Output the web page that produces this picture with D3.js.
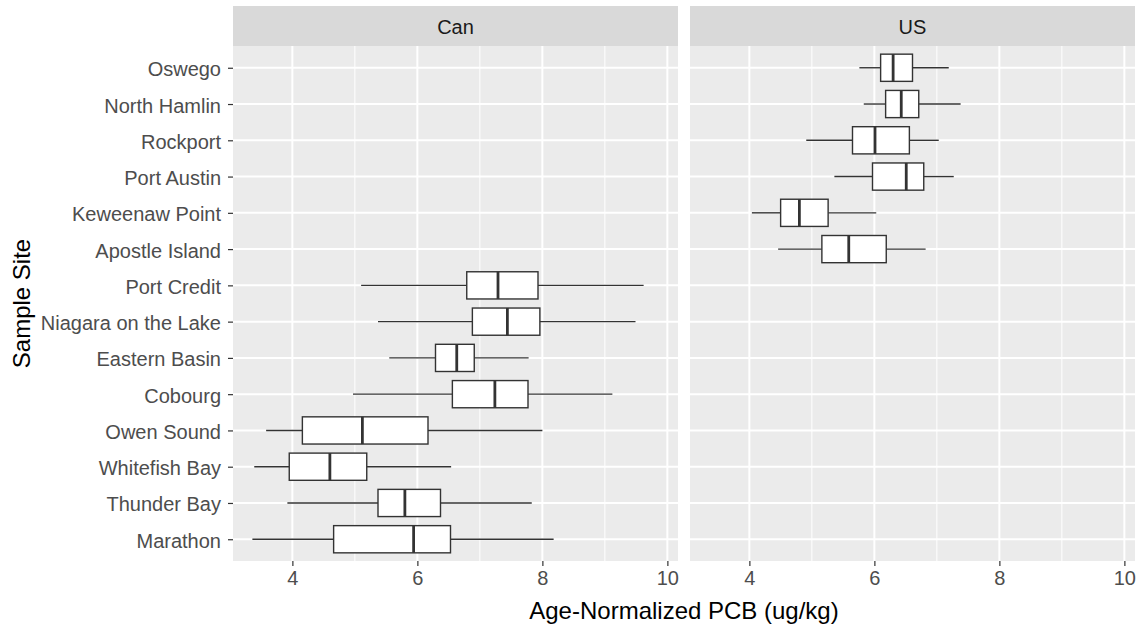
<!DOCTYPE html>
<html>
<head>
<meta charset="utf-8">
<script src="https://cdn.jsdelivr.net/npm/d3@7"></script>
<style>
  body { margin: 0; background: #fff; }
  svg { display: block; font-family: "Liberation Sans", Arial, sans-serif; }
</style>
</head>
<body>
<svg id="chart" width="1144" height="628"></svg>
<script>
// Sites from top to bottom
const sites = [
  'Oswego', 'North Hamlin', 'Rockport', 'Port Austin', 'Keweenaw Point',
  'Apostle Island', 'Port Credit', 'Niagara on the Lake', 'Eastern Basin',
  'Cobourg', 'Owen Sound', 'Whitefish Bay', 'Thunder Bay', 'Marathon'
];
const country = ['US', 'US', 'US', 'US', 'US', 'US',
  'Can', 'Can', 'Can', 'Can', 'Can', 'Can', 'Can', 'Can'];
const whiskerLow  = [5.76, 5.83, 4.91, 5.36, 4.04, 4.46, 5.10, 5.37, 5.55, 4.97, 3.58, 3.39, 3.92, 3.36];
const q1          = [6.10, 6.18, 5.65, 5.97, 4.50, 5.16, 6.79, 6.88, 6.29, 6.56, 4.16, 3.95, 5.37, 4.66];
const median      = [6.30, 6.43, 6.01, 6.51, 4.80, 5.59, 7.29, 7.44, 6.63, 7.24, 5.12, 4.60, 5.80, 5.94];
const q3          = [6.61, 6.71, 6.56, 6.79, 5.26, 6.19, 7.93, 7.96, 6.91, 7.77, 6.17, 5.19, 6.37, 6.53];
const whiskerHigh = [7.19, 7.38, 7.03, 7.27, 6.03, 6.82, 9.62, 9.49, 7.78, 9.12, 8.00, 6.54, 7.83, 8.18];

const panels = ['Can', 'US'];
const xTicks = [4, 6, 8, 10];
const xMinor = [3, 5, 7, 9];

const rows = sites.map((s, i) => ({
  site: s, country: country[i],
  lo: whiskerLow[i], q1: q1[i], med: median[i], q3: q3[i], hi: whiskerHigh[i]
}));

const FONT = '"Liberation Sans", Arial, sans-serif';
const svg = d3.select('#chart');
const panelTop = 46, panelBottom = 561;
const panelX = { Can: 233, US: 690 };
const panelW = 445;
const stripTop = 6;

const y = d3.scalePoint().domain(sites).range([panelTop, panelBottom]).padding(0.6);
const boxH = y.step() * 0.75;

panels.forEach(p => {
  const x0 = panelX[p];
  const x = d3.scaleLinear().domain([3.05, 10.17]).range([x0, x0 + panelW]);

  // strip
  svg.append('rect').attr('x', x0).attr('y', stripTop)
    .attr('width', panelW).attr('height', panelTop - stripTop).attr('fill', '#D9D9D9');
  svg.append('text').attr('x', x0 + panelW / 2).attr('y', 27)
    .attr('text-anchor', 'middle').attr('dominant-baseline', 'central')
    .attr('font-size', 20).attr('fill', '#1A1A1A').text(p);

  // panel background
  svg.append('rect').attr('x', x0).attr('y', panelTop)
    .attr('width', panelW).attr('height', panelBottom - panelTop).attr('fill', '#EBEBEB');

  const g = svg.append('g');
  g.selectAll('line.minor').data(xMinor).join('line')
    .attr('x1', d => x(d)).attr('x2', d => x(d))
    .attr('y1', panelTop).attr('y2', panelBottom)
    .attr('stroke', '#fff').attr('stroke-width', 1);
  g.selectAll('line.majx').data(xTicks).join('line')
    .attr('x1', d => x(d)).attr('x2', d => x(d))
    .attr('y1', panelTop).attr('y2', panelBottom)
    .attr('stroke', '#fff').attr('stroke-width', 2);
  g.selectAll('line.majy').data(sites).join('line')
    .attr('x1', x0).attr('x2', x0 + panelW)
    .attr('y1', d => y(d)).attr('y2', d => y(d))
    .attr('stroke', '#fff').attr('stroke-width', 2);

  // boxes
  const data = rows.filter(r => r.country === p);
  const b = svg.append('g').selectAll('g').data(data).join('g');
  b.append('line').attr('x1', d => x(d.lo)).attr('x2', d => x(d.q1))
    .attr('y1', d => y(d.site)).attr('y2', d => y(d.site))
    .attr('stroke', '#333').attr('stroke-width', 1.4);
  b.append('line').attr('x1', d => x(d.q3)).attr('x2', d => x(d.hi))
    .attr('y1', d => y(d.site)).attr('y2', d => y(d.site))
    .attr('stroke', '#333').attr('stroke-width', 1.4);
  b.append('rect').attr('x', d => x(d.q1)).attr('y', d => y(d.site) - boxH / 2)
    .attr('width', d => x(d.q3) - x(d.q1)).attr('height', boxH)
    .attr('fill', '#fff').attr('stroke', '#333').attr('stroke-width', 1.4);
  b.append('line').attr('x1', d => x(d.med)).attr('x2', d => x(d.med))
    .attr('y1', d => y(d.site) - boxH / 2).attr('y2', d => y(d.site) + boxH / 2)
    .attr('stroke', '#333').attr('stroke-width', 2.8);

  // x axis
  const ax = svg.append('g').attr('transform', `translate(0,${panelBottom})`)
    .call(d3.axisBottom(x).tickValues(xTicks).tickSize(5).tickPadding(5));
  ax.select('.domain').remove();
  ax.selectAll('.tick line').attr('stroke', '#333').attr('stroke-width', 1.2);
  ax.selectAll('.tick text').attr('fill', '#4D4D4D').attr('font-size', 20)
    .attr('font-family', FONT);
});

// y axis
const ay = svg.append('g').attr('transform', `translate(${panelX.Can},0)`)
  .call(d3.axisLeft(y).tickSize(5).tickPadding(7));
ay.select('.domain').remove();
ay.selectAll('.tick line').attr('stroke', '#333').attr('stroke-width', 1.2);
ay.selectAll('.tick text').attr('fill', '#4D4D4D').attr('font-size', 20)
  .attr('font-family', FONT).attr('dy', '0.4em');

// axis titles
svg.append('text').attr('x', (panelX.Can + panelX.US + panelW) / 2).attr('y', 619)
  .attr('text-anchor', 'middle').attr('font-size', 24).attr('fill', '#000')
  .text('Age-Normalized PCB (ug/kg)');
svg.append('text')
  .attr('transform', `translate(30,${(panelTop + panelBottom) / 2}) rotate(-90)`)
  .attr('text-anchor', 'middle').attr('font-size', 24).attr('fill', '#000')
  .text('Sample Site');
</script>
</body>
</html>
